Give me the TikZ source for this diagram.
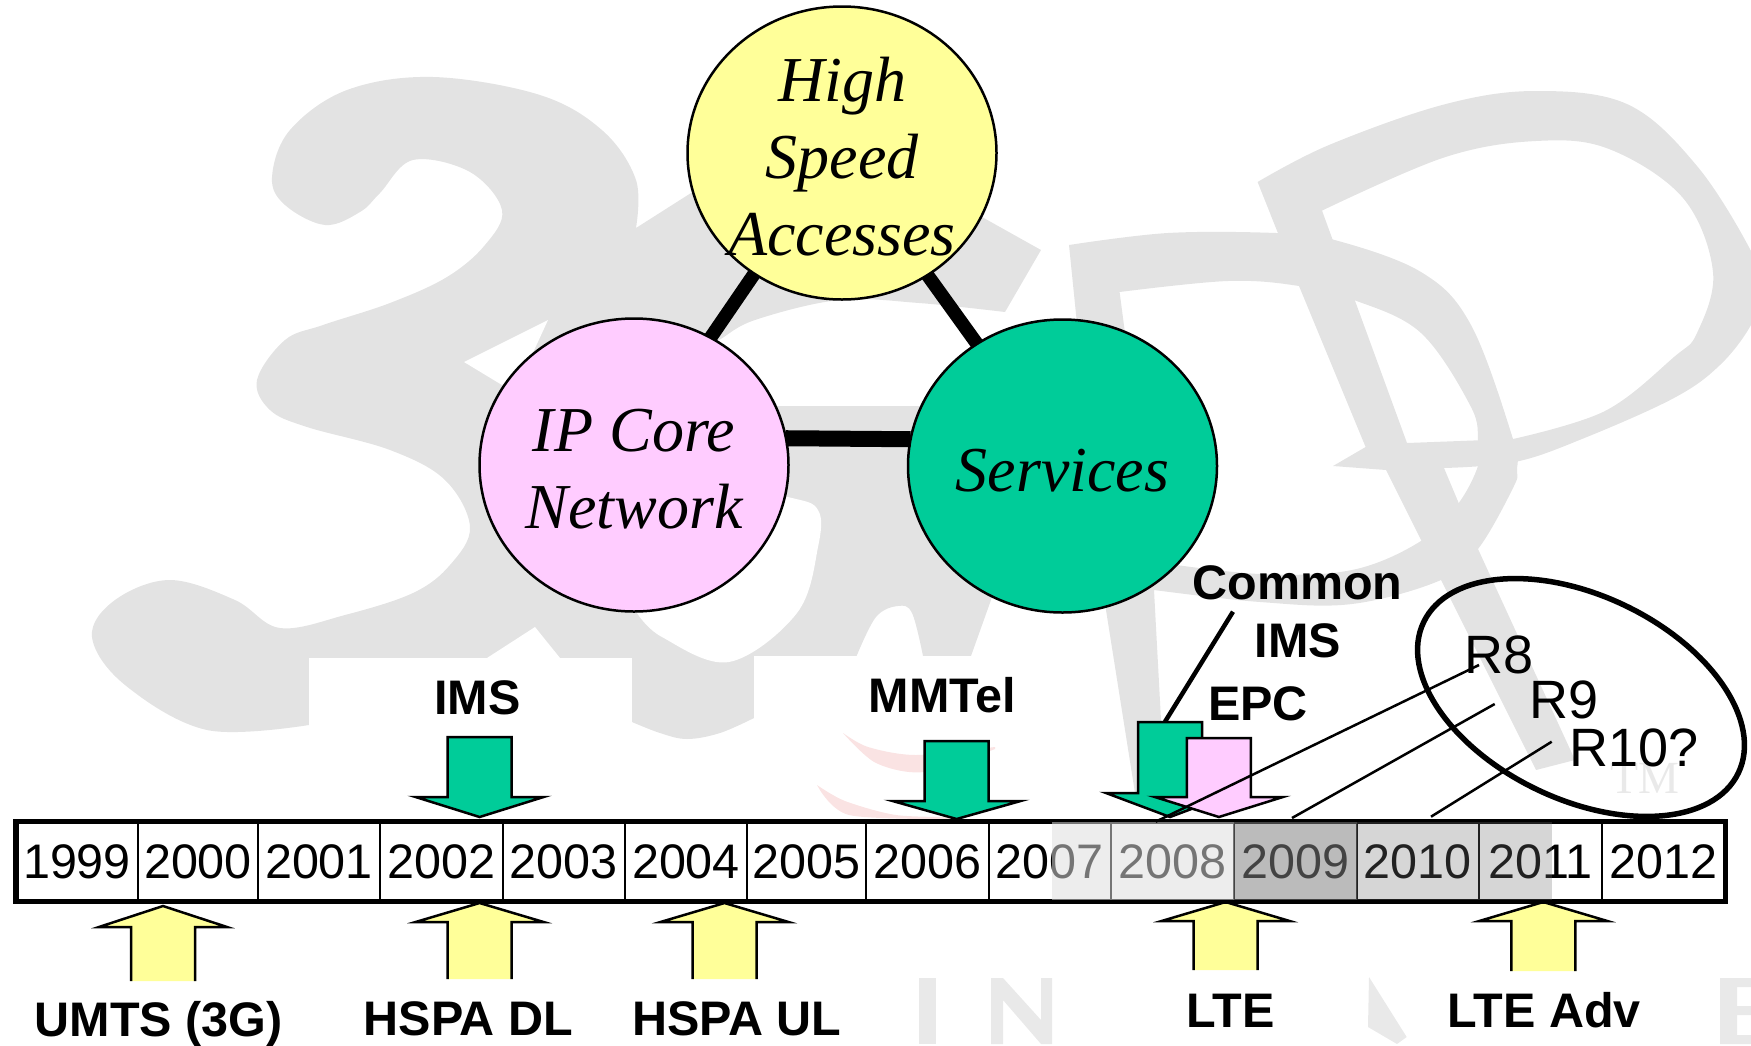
\documentclass[tikz,border=0pt]{standalone}
\usepackage{fontspec}
\setmainfont{Liberation Sans}
\newfontfamily\timesfont{Liberation Serif}
\usetikzlibrary{shapes.geometric,fit}

\definecolor{wmgray}{HTML}{E3E3E3}
\definecolor{wmletter}{HTML}{E9E9E9}
\definecolor{wmred}{HTML}{FAE3E3}
\definecolor{accessyellow}{HTML}{FFFF99}
\definecolor{corepink}{HTML}{FFCCFF}
\definecolor{servicegreen}{HTML}{00CC99}

\tikzset{
  wmark/.style={fill=wmgray,draw=none,even odd rule},
  bubble/.style={ellipse,draw=black,line width=2.5pt,inner sep=-45pt,outer sep=0pt,
    minimum width=309pt,minimum height=293pt,align=center,
    font=\timesfont\itshape\fontsize{64}{77}\selectfont},
  linkbar/.style={line width=#1,line cap=butt},
  yearcell/.style={rectangle,draw=black,fill=white,line width=2pt,inner sep=0pt,outer sep=0pt,
    minimum height=80pt,font=\fontsize{48.5}{58}\selectfont},
  yearbar/.style={rectangle,draw=black,line width=5.5pt,inner sep=0pt,outer sep=0pt},
  blockarrow/.style={draw=black,line width=2.5pt,miter limit=10},
  milestone/.style={anchor=base,inner sep=0pt,font=\bfseries\fontsize{48.5}{58}\selectfont},
  relname/.style={anchor=base,inner sep=0pt,font=\fontsize{54}{60}\selectfont},
}

\begin{document}
\begin{tikzpicture}[x=1pt,y=-1pt]
  \useasboundingbox (0,0) rectangle (1751,1045);
  \clip (0,0) rectangle (1751,1045);

  % the watermark behind everything
  \fill[wmark] plot[smooth,tension=.6] coordinates {(636,228) (636,180) (603,131) (540,95) (433,77) (347,90) (290,130) (272,177)
      (285,205) (325,225) (360,212) (380,193) (413,160) (470,172) (502,210) (485,245) (447,277) (390,303) (323,325)
      (285,340) (257,380) (270,410) (307,427) (390,450) (445,480) (470,527) (450,565) (413,593) (345,615) (280,628)
      (235,600) (170,580) (115,600) (92,637) (125,685) (207,730) (309,725)}
    -- plot[smooth,tension=.6] coordinates {(632,722) (660,733) (687,739) (720,733) (754,718)}
    -- (856,700) -- (856.6,656)
    -- plot[smooth,tension=.6] coordinates {(856.6,656) (876,617) (898,606) (912,613) (923,656)}
    -- (971,656) -- (991,600) -- (1000,560) -- (1000,406) -- (760,406) -- (705,390) -- (705,345)
    -- plot[smooth,tension=.6] coordinates {(705,345) (719,340) (755,320) (839,300) (919,303) (1005,312)}
    -- (1041,250) -- (982,217) -- (900,200) -- (691,193) -- cycle;
  \fill[white] (548,320) -- (464,362) -- (502,385) -- (525,370) -- cycle;
  \fill[white] (487,658) -- (535,627) -- (560,658) -- cycle;
  \fill[white] plot[smooth,tension=.6] coordinates {(700,480) (788,497) (818,510) (818,547) (797,613) (729,662) (662,637) (637,613)} -- cycle;

  % first letter P
  \fill[wmark] plot[smooth,tension=.6] coordinates {(1069,245) (1168,233) (1276,233) (1331,239) (1421,272) (1471,325) (1513,439)
      (1517,470) (1513,488) (1478,549) (1441,580) (1352,604) (1260,602) (1154,590)}
    -- (1161,720) -- (1165,790) -- (1135,793) -- (1106,610) -- cycle
    (1119.6,292) -- plot[smooth,tension=.6] coordinates {(1119.6,292) (1228,281) (1299,286) (1354,300) (1421,333) (1471,407) (1478,443)
      (1478,466) (1457.6,504.5) (1421,541) (1352,570) (1260,574) (1155,562)} -- cycle;
  % second letter P
  \fill[wmark] plot[smooth,tension=.6] coordinates {(1257.6,182) (1329,145) (1444,104.5) (1536,91) (1628,104.5) (1697,166) (1751,251)
      (1762,290) (1751,325) (1720,365) (1674,398) (1582,439) (1515,462) (1444,468)}
    -- (1478,549) -- (1575,760) -- (1536,770) -- (1441,580) -- (1386,470) -- (1333,466) -- (1365.6,447) -- (1299,286) -- cycle
    (1322,210.6) -- plot[smooth,tension=.6] coordinates {(1322,210.6) (1444,157.5) (1536,141) (1609,149) (1683,198) (1713,272) (1697,333)
      (1674,357) (1605,411) (1513,439)} -- (1407,443) -- (1354,298) -- cycle;

  % white boxes that hide the watermark around the labels
  \fill[white] (309,658) rectangle (632,760);
  \fill[white] (754,656) rectangle (1100,760);

  % red swooshes and the small letters
  \fill[wmred] plot[smooth] coordinates {(843,733) (868,747) (916,755) (995,747)}
    -- plot[smooth] coordinates {(995,749) (924,772) (876,763) (843,733)} -- cycle;
  \fill[wmred] plot[smooth] coordinates {(817,785) (845,801) (896,815) (955,817)}
    -- plot[smooth] coordinates {(955,819) (849,815) (817,785)} -- cycle;
  \fill[wmletter] (919,978) rectangle (935.6,1044);
  \fill[wmletter] (991,978) -- (1003,978) -- (1041,1020) -- (1041,978) -- (1052,978) -- (1052,1044) -- (1041,1044)
    -- (1003,1000) -- (1003,1044) -- (991,1044) -- cycle;
  \fill[wmletter] (1369,977) -- (1406.7,1037) -- (1397,1044) -- (1368,1027) -- cycle;
  \fill[wmletter] (1720,978) -- (1751,978) -- (1751,987) -- (1737,987) -- (1737,1006) -- (1751,1006) -- (1751,1015)
    -- (1737,1015) -- (1737,1035) -- (1751,1035) -- (1751,1044) -- (1720,1044) -- cycle;
  \node[inner sep=0pt,anchor=base,text=wmletter,font=\timesfont\fontsize{46}{50}\selectfont] (trademark) at (1645,793) {TM};

  % the three domains and their links
  \node[bubble,fill=accessyellow,text height=205pt,text depth=0pt] (access) at (842,153) {High\\Speed\\Accesses};
  \node[bubble,fill=corepink,text height=127pt,text depth=0pt] (core) at (634,465) {IP Core\\Network};
  \node[bubble,fill=servicegreen,text height=50pt,text depth=0pt] (service) at (1062.5,466) {Services};
  \draw[linkbar=13.5pt] (access.234) -- (core.59);
  \draw[linkbar=13.5pt] (access.305) -- (service.125);
  \draw[linkbar=16pt] (core.10) -- (service.170);

  % green and pink arrows down to the time line
  \foreach \cx/\ytop/\ybase/\ytip/\hw/\tone in {
      479.6/737/797/817/64/servicegreen,
      956.6/741/801/819/64/servicegreen,
      1170/722/793/817/64/servicegreen,
      1218.9/738/797/817/64/corepink}
    \filldraw[blockarrow,fill=\tone] (\cx-32,\ytop) -- (\cx+32,\ytop) -- (\cx+32,\ybase) -- (\cx+\hw,\ybase)
      -- (\cx,\ytip) -- (\cx-\hw,\ybase) -- (\cx-32,\ybase) -- cycle;

  % yellow arrows up to the time line, open at the foot
  \foreach \cx/\ytip/\ybase/\yfoot in {
      163/906/927/981,
      479.6/903/922/979,
      724.5/903/922/979,
      1225.6/902/921/970,
      1543.3/902/921/971}
    \filldraw[blockarrow,fill=accessyellow] (\cx-32,\yfoot) -- (\cx-32,\ybase) -- (\cx-64,\ybase) -- (\cx,\ytip)
      -- (\cx+64,\ybase) -- (\cx+32,\ybase) -- (\cx+32,\yfoot);

  % time line
  \foreach \yr/\xa/\xb in {1999/16/138,2000/138/258,2001/258/380,2002/380/502.5,2003/502.5/625,2004/625/747,
      2005/747/866,2006/866/988.5,2007/988.5/1111,2008/1111/1233.7,2009/1233.7/1356.8,2010/1356.8/1479,
      2011/1479/1602,2012/1602/1725.5} {
    \pgfmathsetmacro{\cw}{\xb-\xa}
    \node[yearcell,minimum width=\cw pt] (y\yr) at ({(\xa+\xb)/2},861.3) {\yr};
  }
  \node[yearbar,fit=(y1999)(y2012)] (timeline) {};

  % the fading over the later years
  \fill[fill=white!87!black,fill opacity=.53] (1052,822) rectangle (1233.7,900);
  \fill[fill=black!50,fill opacity=.53] (1233.7,822) rectangle (1356.8,900);
  \fill[fill=black!54,fill opacity=.29] (1356.8,822) rectangle (1552,900);

  % labels above and below the time line
  \node[milestone] (labims) at (477.5,714) {IMS};
  \node[milestone] (labmmtel) at (942.5,712) {MMTel};
  \node[milestone] (labcommon) at (1297.5,599) {Common};
  \node[milestone] (labcims) at (1298,657) {IMS};
  \node[milestone] (labepc) at (1258,720) {EPC};
  \node[milestone] (labumts) at (158.8,1036.7) {UMTS (3G)};
  \node[milestone] (labdl) at (468.5,1035) {HSPA DL};
  \node[milestone] (labul) at (737,1035) {HSPA UL};
  \node[milestone] (lablte) at (1230.8,1027) {LTE};
  \node[milestone] (labadv) at (1544.4,1027) {LTE Adv};
  \node[relname] (labr8) at (1498.8,673) {R8};
  \node[relname] (labr9) at (1564,718) {R9};
  \node[relname] (labr10) at (1634,766) {R10?};

  % the releases ring and the leader lines
  \node[ellipse,draw=black,line width=5.5pt,inner sep=0pt,outer sep=0pt,minimum width=349pt,minimum height=204pt,rotate=-25.6] (ring) at (1581,697.5) {};
  \coordinate (commonfoot) at (1165,721.7);
  \coordinate (commontop) at (1233,611.7);
  \coordinate (r8top) at (1479,665);
  \coordinate (r8foot) at (1155.7,821.7);
  \coordinate (r9top) at (1494.7,704);
  \coordinate (r9foot) at (1292,818);
  \coordinate (r10top) at (1551.7,741.7);
  \coordinate (r10foot) at (1431,816.7);
  \draw[line width=4.5pt] (commontop) -- (commonfoot);
  \draw[line width=2.5pt] (r8top) -- (r8foot);
  \draw[line width=2.5pt] (r9top) -- (r9foot);
  \draw[line width=2.5pt] (r10top) -- (r10foot);
\end{tikzpicture}
\end{document}
